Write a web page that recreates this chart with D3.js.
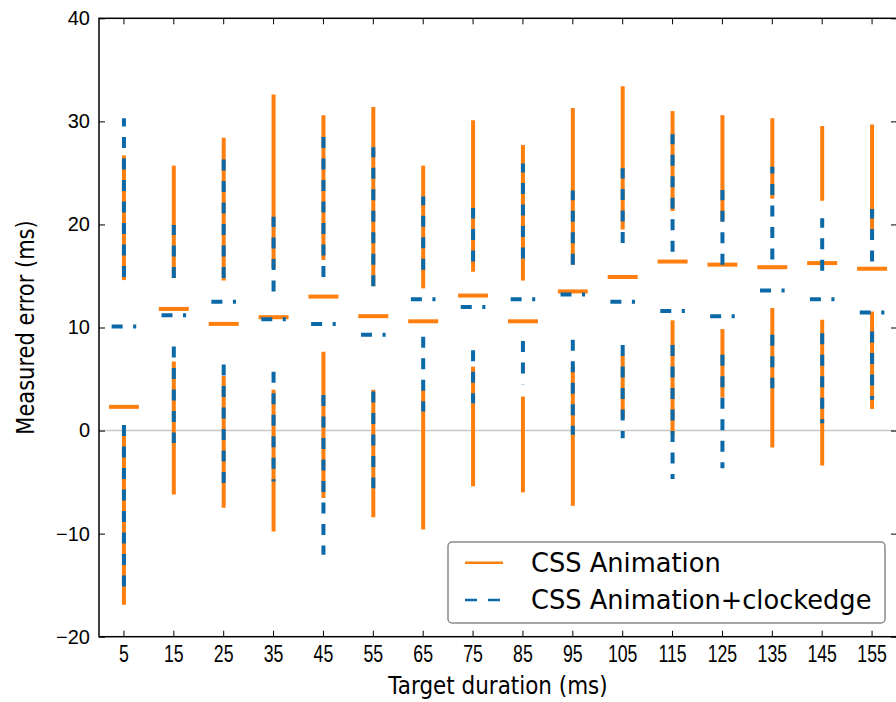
<!DOCTYPE html>
<html>
<head>
<meta charset="utf-8">
<script src="https://cdn.jsdelivr.net/npm/d3@7"></script>
<style>
  body { margin: 0; background: #fff; }
  svg { display: block; font-family: "DejaVu Sans", sans-serif; }
</style>
</head>
<body>
<svg id="chart"></svg>
<script>
const width = 896;
const height = 702;
const margin = { top: 18.3, right: -1, bottom: 65.3, left: 99 };

// target durations (ms)
const durations = [5, 15, 25, 35, 45, 55, 65, 75, 85, 95, 105, 115, 125, 135, 145, 155];

// CSS Animation: whisker low, q1, median, q3, whisker high
const cssMin = [-16.9, -6.2, -7.5, -9.8, -6.55, -8.4, -9.6, -5.4, -6.0, -7.3, 1.2, -0.4, 3.2, -1.65, -3.4, 2.1];
const cssQ1 = [0.3, 6.7, 5.3, 3.95, 7.65, 3.95, 3.95, 6.2, 3.3, 6.2, 7.3, 10.7, 9.85, 11.9, 10.75, 11.55];
const cssMed = [2.3, 11.8, 10.35, 11.0, 13.0, 11.1, 10.6, 13.1, 10.6, 13.5, 14.9, 16.4, 16.1, 15.85, 16.25, 15.7];
const cssQ3 = [14.6, 14.8, 14.55, 15.8, 16.55, 14.0, 13.8, 15.4, 14.55, 16.1, 19.5, 21.3, 20.3, 22.5, 22.3, 19.5];
const cssMax = [26.7, 25.7, 28.4, 32.6, 30.6, 31.4, 25.7, 30.1, 27.7, 31.3, 33.4, 31.0, 30.6, 30.3, 29.55, 29.7];

// CSS Animation+clockedge
const clkMin = [-15.9, -1.2, -6.0, -4.95, -12.05, -5.6, 1.85, 2.65, 4.5, -0.4, -0.75, -4.7, -3.65, 4.1, 0.7, 3.0];
const clkQ1 = [0.55, 8.15, 6.4, 5.7, 3.45, 3.8, 9.1, 7.8, 8.7, 8.8, 8.3, 8.3, 7.35, 9.3, 9.45, 9.6];
const clkMed = [10.1, 11.2, 12.5, 10.8, 10.35, 9.3, 12.75, 12.0, 12.75, 13.2, 12.5, 11.6, 11.1, 13.6, 12.75, 11.45];
const clkQ3 = [14.9, 14.8, 14.8, 13.5, 14.9, 14.0, 15.6, 16.4, 16.7, 16.1, 18.2, 17.35, 16.1, 16.6, 15.5, 16.4];
const clkMax = [30.3, 19.95, 26.3, 20.75, 28.5, 27.5, 22.7, 21.6, 25.9, 23.3, 25.45, 28.75, 23.35, 25.6, 20.6, 21.5];

const yTicks = [-20, -10, 0, 10, 20, 30, 40];

const series = [
  { name: "CSS Animation", color: "#ff7f0e", dash: null, legendDash: null, medHalf: 15,
    min: cssMin, q1: cssQ1, med: cssMed, q3: cssQ3, max: cssMax },
  { name: "CSS Animation+clockedge", color: "#0b69a8", dash: "11,10.5", legendDash: "12,11", medHalf: 12.3,
    min: clkMin, q1: clkQ1, med: clkMed, q3: clkQ3, max: clkMax }
];

const svg = d3.select("#chart")
  .attr("width", width)
  .attr("height", height);

const x = d3.scaleBand()
  .domain(durations)
  .range([margin.left, width - margin.right])
  .padding(0);

const y = d3.scaleLinear()
  .domain([-20, 40])
  .range([height - margin.bottom, margin.top]);

const cx = d => x(d) + x.bandwidth() / 2;

// zero line
svg.append("line")
  .attr("x1", margin.left).attr("x2", width - margin.right)
  .attr("y1", y(0)).attr("y2", y(0))
  .attr("stroke", "#c8c8c8")
  .attr("stroke-width", 1.5);

// boxes without box: whiskers + median
series.forEach(s => {
  const g = svg.append("g").attr("class", "series");
  const rows = durations.map((d, i) => ({ d, min: s.min[i], q1: s.q1[i], med: s.med[i], q3: s.q3[i], max: s.max[i] }));

  // upper whisker, drawn from q3 upward
  g.selectAll(".up").data(rows).enter().append("line")
    .attr("x1", r => cx(r.d)).attr("x2", r => cx(r.d))
    .attr("y1", r => y(r.q3)).attr("y2", r => y(r.max))
    .attr("stroke", s.color).attr("stroke-width", 4)
    .attr("stroke-dasharray", s.dash);

  // lower whisker, drawn from q1 downward
  g.selectAll(".low").data(rows).enter().append("line")
    .attr("x1", r => cx(r.d)).attr("x2", r => cx(r.d))
    .attr("y1", r => y(r.q1)).attr("y2", r => y(r.min))
    .attr("stroke", s.color).attr("stroke-width", 4)
    .attr("stroke-dasharray", s.dash);

  // median
  g.selectAll(".med").data(rows).enter().append("line")
    .attr("x1", r => cx(r.d) - s.medHalf).attr("x2", r => cx(r.d) + s.medHalf)
    .attr("y1", r => y(r.med)).attr("y2", r => y(r.med))
    .attr("stroke", s.color).attr("stroke-width", 4)
    .attr("stroke-dasharray", s.dash);
});

// axes, classic style ticks pointing inward
const xAxis = d3.axisBottom(x).tickSizeInner(-6).tickSizeOuter(0).tickPadding(10);
const xAxisTop = d3.axisTop(x).tickSizeInner(-6).tickSizeOuter(0).tickFormat("");
const yAxis = d3.axisLeft(y).tickValues(yTicks).tickSizeInner(-6).tickSizeOuter(0).tickPadding(9)
  .tickFormat(d => d < 0 ? "\u2212" + Math.abs(d) : d);
const yAxisRight = d3.axisRight(y).tickValues(yTicks).tickSizeInner(-6).tickSizeOuter(0).tickFormat("");

const gx = svg.append("g")
  .attr("transform", "translate(0," + y(-20) + ")")
  .call(xAxis);
gx.selectAll("text")
  .attr("y", 25).attr("dy", null)
  .attr("transform", "scale(0.77,1)")
  .style("font-size", "23px")
  .attr("fill", "#000");

svg.append("g")
  .attr("transform", "translate(0," + y(40) + ")")
  .call(xAxisTop);

const gy = svg.append("g")
  .attr("transform", "translate(" + margin.left + ",0)")
  .call(yAxis);
gy.selectAll("text").style("font-size", "20px").attr("fill", "#000");

svg.append("g")
  .attr("transform", "translate(" + (width - margin.right) + ",0)")
  .call(yAxisRight);

svg.selectAll(".domain").remove();
svg.selectAll(".tick line").attr("stroke", "#000").attr("stroke-width", 1);

// frame
svg.append("rect")
  .attr("x", margin.left).attr("y", margin.top)
  .attr("width", width - margin.right - margin.left)
  .attr("height", y(-20) - margin.top)
  .attr("fill", "none")
  .attr("stroke", "#000")
  .attr("stroke-width", 1.5);

// axis labels
svg.append("text")
  .attr("transform", "translate(" + ((margin.left + width - margin.right) / 2) + ",694) scale(0.86,1)")
  .attr("text-anchor", "middle")
  .style("font-size", "25px")
  .text("Target duration (ms)");

svg.append("text")
  .attr("transform", "translate(34," + ((margin.top + y(-20)) / 2) + ") rotate(-90) scale(0.84,1)")
  .attr("text-anchor", "middle")
  .style("font-size", "25px")
  .text("Measured error (ms)");

// legend
const legend = svg.append("g").attr("id", "legend");
legend.append("rect")
  .attr("x", 448).attr("y", 542)
  .attr("width", 437).attr("height", 81)
  .attr("rx", 4)
  .attr("fill", "#fff")
  .attr("stroke", "#8a8a8a")
  .attr("stroke-width", 1.5);

const rowsY = [562.7, 600];
series.forEach((s, i) => {
  legend.append("line")
    .attr("x1", 465).attr("x2", 503)
    .attr("y1", rowsY[i]).attr("y2", rowsY[i])
    .attr("stroke", s.color).attr("stroke-width", 2.5)
    .attr("stroke-dasharray", s.legendDash);
  legend.append("text")
    .attr("x", 531).attr("y", rowsY[i] + 9)
    .style("font-size", "25.7px")
    .text(s.name);
});
</script>
</body>
</html>
